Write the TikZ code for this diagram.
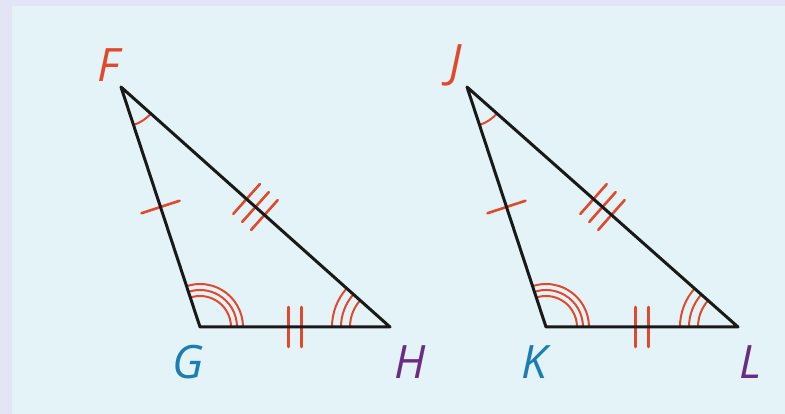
\documentclass[tikz,border=0pt]{standalone}
\usepackage{fontspec}
\setmainfont{Open Sans}
\usetikzlibrary{calc,angles}
\definecolor{lav}{HTML}{E4E4F7}
\definecolor{panel}{HTML}{E4F3F8}
\definecolor{mred}{HTML}{E2492B}
\definecolor{mblue}{HTML}{1B7DB5}
\definecolor{mpurp}{HTML}{6B2C84}
\begin{document}
\begin{tikzpicture}[x=1pt,y=1pt,
  side/.style={draw=black!90,line width=3pt,line join=round,line cap=round},
  tickmark/.style={draw=mred,line width=2.6pt,line cap=round},
  arcmark/.style={draw=mred,line width=2pt},
  lbl/.style={font=\fontsize{46}{50}\selectfont\itshape,inner sep=0pt}]
\fill[lav] (0,0) rectangle (785,414);
\fill[panel] (12,0) rectangle (785,408);
\useasboundingbox (0,0) rectangle (785,414);
% triangle FGH
\coordinate (F) at (121,327);
\coordinate (G) at (200,87);
\coordinate (H) at (390,87);
% triangle JKL
\coordinate (J) at (467,327);
\coordinate (K) at (546,87);
\coordinate (L) at (738,87);
\foreach \A/\B/\C in {F/G/H,J/K/L}{
  % angle marks
  \pic[arcmark,angle radius=40] {angle=\B--\A--\C};
  \foreach \r in {31,37,43}{\pic[arcmark,angle radius=\r] {angle=\C--\B--\A};}
  \foreach \r in {40,49,58}{\pic[arcmark,angle radius=\r] {angle=\A--\C--\B};}
  % ticks
  \draw[tickmark] ($(\A)!0.5!(\B)!20pt!90:(\B)$) -- ($(\A)!0.5!(\B)!20pt!-90:(\B)$);
  \foreach \s in {-12,0,12}{
    \draw[tickmark] ($($(\A)!0.5!(\C)$)!\s pt!(\C)$) coordinate (m)
      ($(m)!20pt!90:(\C)$) -- ($(m)!20pt!-90:(\C)$);}
  \foreach \s in {-6.5,6.5}{
    \draw[tickmark] ($($(\B)!0.5!(\C)$)!\s pt!(\C)$) coordinate (m)
      ($(m)!20pt!90:(\C)$) -- ($(m)!20pt!-90:(\C)$);}
  \draw[side] (\A) -- (\B) -- (\C) -- cycle;
}
\node[lbl,text=mred] (lF) at (108,349) {F};
\node[lbl,text=mblue] (lG) at (188,52) {G};
\node[lbl,text=mpurp] (lH) at (410,52) {H};
\node[lbl,text=mred] (lJ) at (456,349) {J};
\node[lbl,text=mblue] (lK) at (534,52) {K};
\node[lbl,text=mpurp] (lL) at (751,52) {L};
\end{tikzpicture}
\end{document}
